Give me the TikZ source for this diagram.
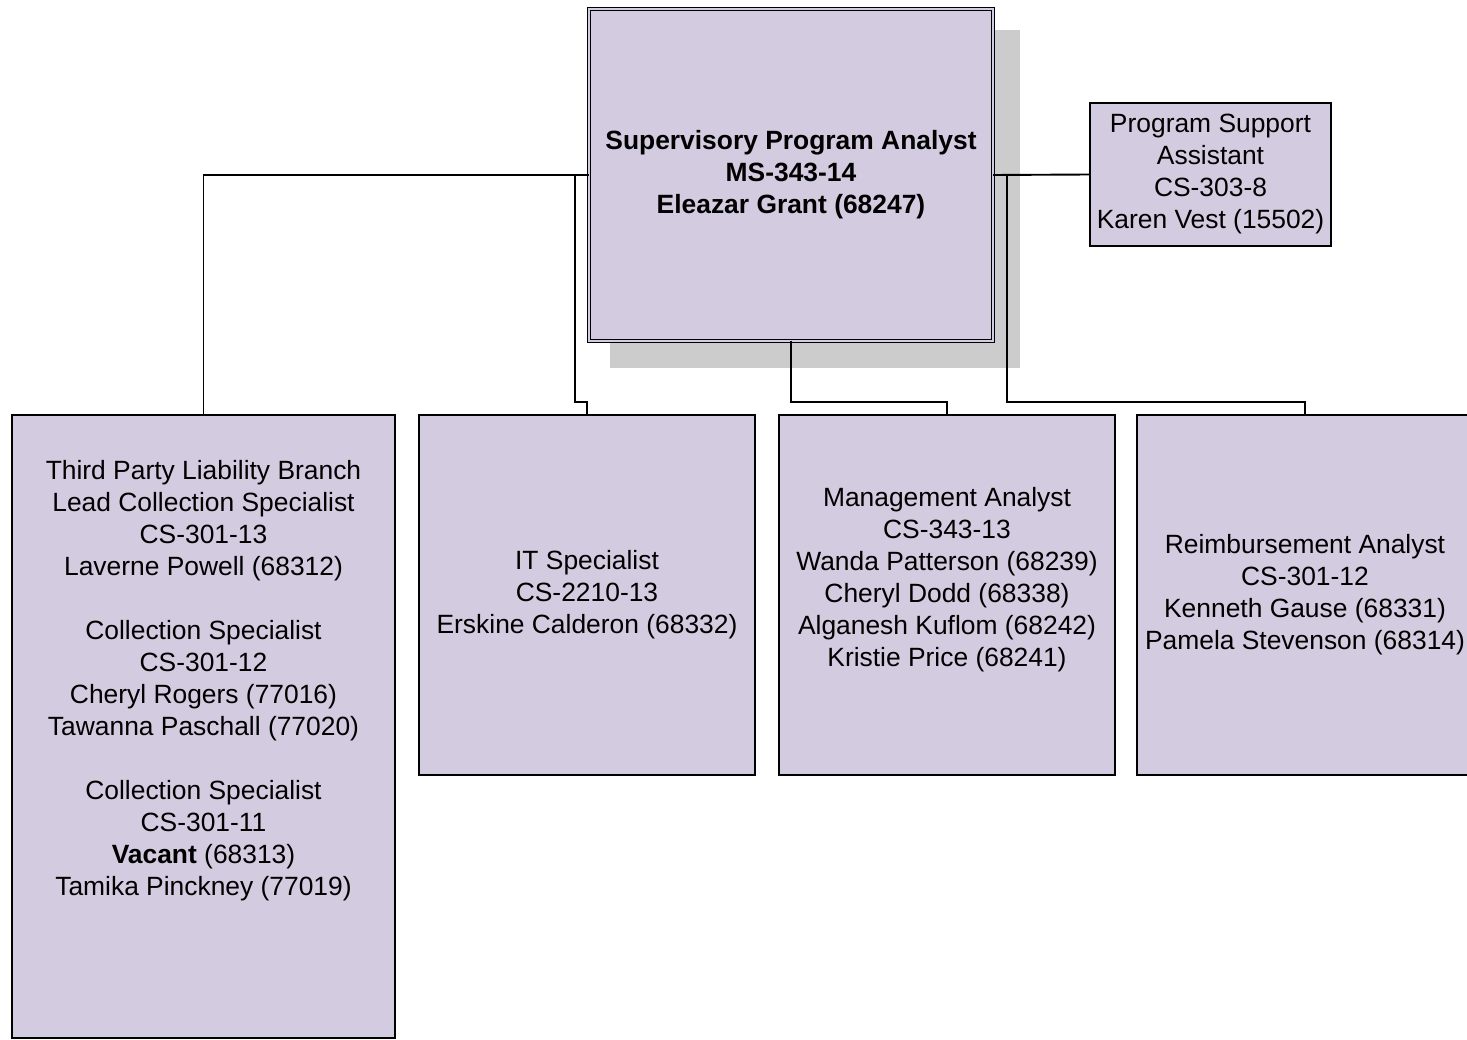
\documentclass[tikz,border=0pt]{standalone}
\usepackage{fontspec}
\setmainfont{Liberation Sans}
\usetikzlibrary{backgrounds}
\definecolor{boxfill}{RGB}{211,203,224}
\definecolor{shadowgray}{RGB}{204,204,204}
\begin{document}
\begin{tikzpicture}[x=1pt,y=-1pt,
  post/.style={rectangle,draw,line width=1.9pt,fill=boxfill,align=center,inner sep=0pt,outer sep=0pt,font=\fontsize{26.4}{32}\selectfont},
  link/.style={line width=1.9pt}]
\def\drop{13pt}
\useasboundingbox (0,0) rectangle (1467,1040);
\path
(791,175) node [post,double=boxfill,line width=1.4pt,double distance=1.6pt,minimum width=404,minimum height=332,font=\bfseries\fontsize{26.4}{32}\selectfont] (sup)
  {Supervisory Program Analyst\\MS-343-14\\Eleazar Grant (68247)}
(1210.5,174.5) node [post,minimum width=241,minimum height=143] (psa)
  {Program Support\\Assistant\\CS-303-8\\Karen Vest (15502)}
(203.5,726.5) node [post,minimum width=383,minimum height=623] (tpl)
  {Third Party Liability Branch\\Lead Collection Specialist\\CS-301-13\\Laverne Powell (68312)\\[32pt]
   Collection Specialist\\CS-301-12\\Cheryl Rogers (77016)\\Tawanna Paschall (77020)\\[32pt]
   Collection Specialist\\CS-301-11\\\textbf{Vacant} (68313)\\Tamika Pinckney (77019)\\[66pt]\mbox{}}
(587,595) node [post,minimum width=336,minimum height=360] (its)
  {IT Specialist\\CS-2210-13\\Erskine Calderon (68332)}
(947,595) node [post,minimum width=336,minimum height=360] (mga)
  {Management Analyst\\CS-343-13\\Wanda Patterson (68239)\\Cheryl Dodd (68338)\\Alganesh Kuflom (68242)\\Kristie Price (68241)\\[4pt]\mbox{}}
(1305,595) node [post,minimum width=336,minimum height=360] (rba)
  {Reimbursement Analyst\\CS-301-12\\Kenneth Gause (68331)\\Pamela Stevenson (68314)}
;
\begin{scope}[on background layer]
\fill[shadowgray] ([shift={(21,21)}]sup.north west) rectangle ([shift={(27,27)}]sup.south east);
\end{scope}
\coordinate (jl) at (575,175);
\coordinate (jr) at (1007,175);
\draw[link] (sup.west) -| (tpl.north);
\draw[link] (jl) |- ([yshift=\drop]its.north) -- (its.north);
\draw[link] (sup.south) |- ([yshift=\drop]mga.north) -- (mga.north);
\draw[link] (sup.east) -- (psa.west);
\draw[link] (jr) |- ([yshift=\drop]rba.north) -- (rba.north);
\end{tikzpicture}
\end{document}
